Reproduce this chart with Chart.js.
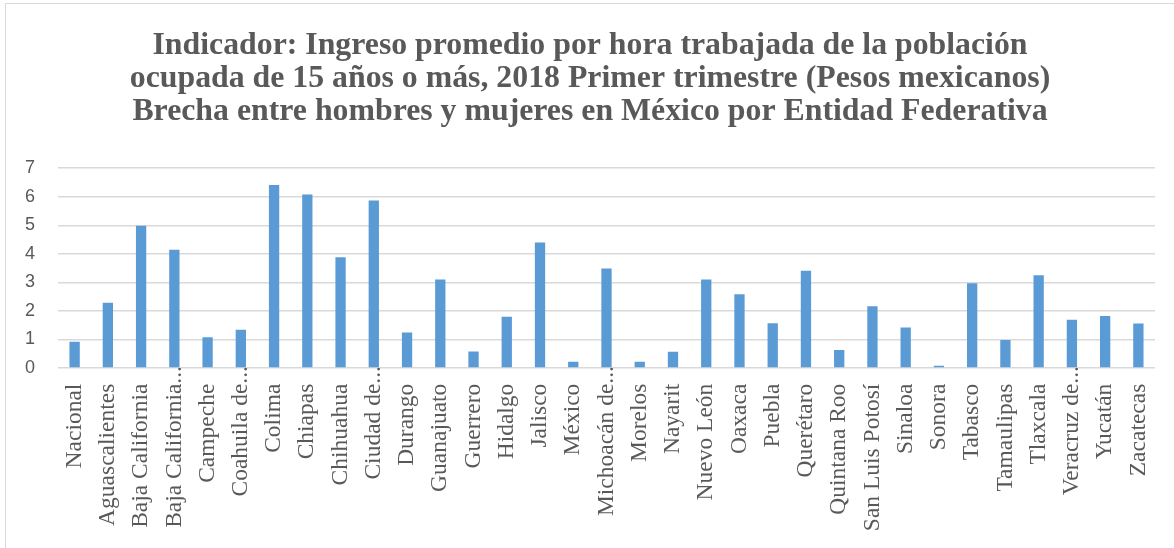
<!DOCTYPE html>
<html>
<head>
<meta charset="utf-8">
<script src="https://cdn.jsdelivr.net/npm/chart.js@4"></script>
<style>
  html, body { margin: 0; padding: 0; background: #fff; overflow: hidden; }
  #frame {
    position: absolute; left: 5px; top: 3px; width: 1200px; height: 600px;
    border: 1.5px solid #d9d9d9; box-sizing: border-box;
  }
  #wrap { position: absolute; left: 0; top: 0; width: 1174px; height: 548px; }
</style>
</head>
<body>
<div id="frame"></div>
<div id="wrap"><canvas id="chart" width="1174" height="548"></canvas></div>
<script>
  const estados = [
    "Nacional", "Aguascalientes", "Baja California", "Baja California...",
    "Campeche", "Coahuila de...", "Colima", "Chiapas", "Chihuahua",
    "Ciudad de...", "Durango", "Guanajuato", "Guerrero", "Hidalgo",
    "Jalisco", "México", "Michoacán de...", "Morelos", "Nayarit",
    "Nuevo León", "Oaxaca", "Puebla", "Querétaro", "Quintana Roo",
    "San Luis Potosí", "Sinaloa", "Sonora", "Tabasco", "Tamaulipas",
    "Tlaxcala", "Veracruz de...", "Yucatán", "Zacatecas"
  ];

  // brecha de ingreso por hora (pesos)
  const brecha = [
    0.92, 2.29, 4.98, 4.14, 1.08, 1.34, 6.41, 6.08, 3.88, 5.87,
    1.24, 3.10, 0.58, 1.80, 4.40, 0.22, 3.49, 0.22, 0.57, 3.10,
    2.58, 1.57, 3.41, 0.63, 2.16, 1.42, 0.08, 2.97, 0.98, 3.25,
    1.69, 1.82, 1.56
  ];

  const titulo = [
    "Indicador: Ingreso promedio por hora trabajada de la población",
    "ocupada de 15 años o más, 2018 Primer trimestre (Pesos mexicanos)",
    "Brecha entre hombres y mujeres en México por Entidad Federativa"
  ];

  const gris = "#595959";

  // los nombres recortados dejan que los puntos suspensivos sobresalgan hacia el eje
  function etiqueta(i) {
    const txt = estados[i];
    return txt.endsWith("...") ? txt : txt + "   ";
  }

  new Chart(document.getElementById("chart"), {
    type: "bar",
    data: {
      labels: estados,
      datasets: [{
        data: brecha,
        backgroundColor: "#5b9bd5",
        barPercentage: 0.31,
        categoryPercentage: 1
      }]
    },
    options: {
      responsive: false,
      animation: false,
      layout: { padding: { left: 25, right: 19, top: 0, bottom: 0 } },
      plugins: {
        legend: { display: false },
        tooltip: { enabled: false },
        title: {
          display: true,
          text: titulo,
          color: gris,
          font: { family: "'Liberation Serif', serif", size: 31.8, weight: "bold", lineHeight: 1.04 },
          padding: { top: 29, bottom: 40 }
        }
      },
      scales: {
        y: {
          min: 0,
          max: 7,
          afterFit: (s) => { s.width = 33; },
          ticks: {
            stepSize: 1,
            color: gris,
            padding: 23,
            font: { family: "'Liberation Sans', sans-serif", size: 18 }
          },
          grid: { color: "#d9d9d9", lineWidth: 1.5, drawTicks: false },
          border: { display: false }
        },
        x: {
          afterFit: (s) => { s.height = 180; },
          ticks: {
            color: gris,
            minRotation: 90,
            maxRotation: 90,
            autoSkip: false,
            padding: -2,
            callback: (v, i) => etiqueta(i),
            font: { family: "'Liberation Serif', serif", size: 23.5 }
          },
          grid: { display: false, drawTicks: false },
          border: { display: false }
        }
      }
    }
  });
</script>
</body>
</html>
